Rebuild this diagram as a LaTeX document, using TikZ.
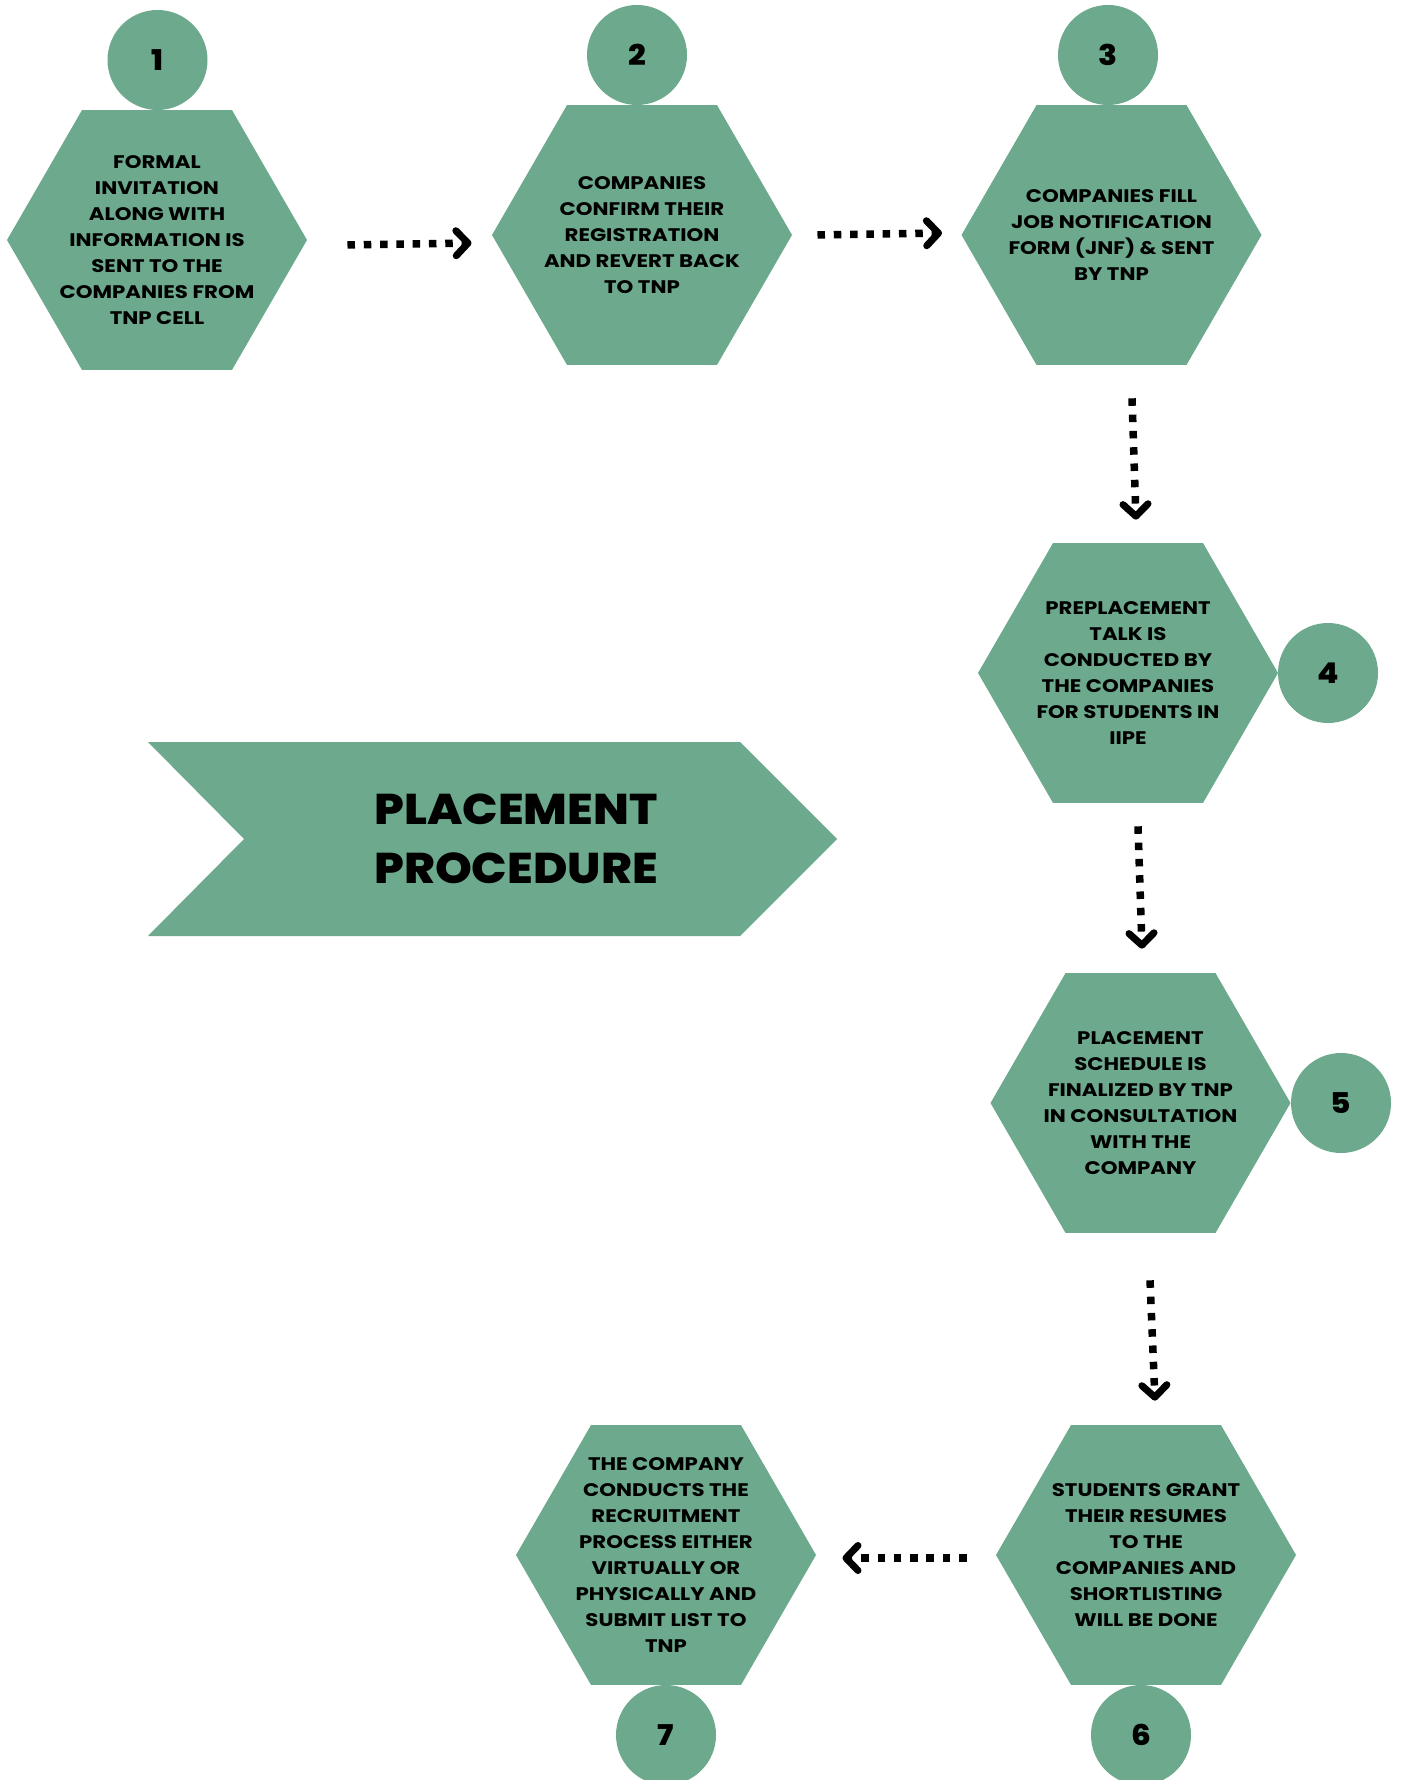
\documentclass[tikz,border=0pt]{standalone}
\usepackage{fontspec}
\setmainfont{Poppins}
\newfontfamily\hexfont{Poppins}[FakeStretch=1.17]
\newfontfamily\heavyfont{Poppins ExtraBold}[FakeStretch=1.09]
\usetikzlibrary{shapes.geometric,arrows.meta,calc}
\definecolor{hexgreen}{RGB}{108,169,141}
\begin{document}
\begin{tikzpicture}[x=0.5pt,y=-0.5pt,
  hexa/.style={regular polygon,regular polygon sides=6,minimum size=150pt,inner sep=0pt,fill=hexgreen,draw=none},
  numc/.style={circle,minimum size=50pt,inner sep=0pt,fill=hexgreen,font=\heavyfont\fontsize{14.3}{14.3}\selectfont,text=black},
  hextext/.style={align=center,inner sep=0pt,font=\hexfont\bfseries\fontsize{9.1}{13}\selectfont,text=black},
  titletext/.style={align=center,inner sep=0pt,font=\heavyfont\fontsize{21.5}{29.5}\selectfont,text=black},
  flow/.style={line width=3.75pt,dash pattern=on 3.75pt off 4.4pt,
    -{Straight Barb[length=6pt,width=12.5pt,line width=3.5pt,round]}}
]
\useasboundingbox (0,0) rectangle (1402,1780);
\fill[white] (0,0) rectangle (1402,1780);

% hexagons
\node[hexa] (h1) at (157,240) {};
\node[hexa] (h2) at (642,235) {};
\node[hexa] (h3) at (1111.5,235) {};
\node[hexa] (h4) at (1128,673) {};
\node[hexa] (h5) at (1140.5,1103) {};
\node[hexa] (h6) at (1146,1555) {};
\node[hexa] (h7) at (666,1555) {};

% texts
\node[hextext] (t1) at (h1) {FORMAL\\INVITATION\\ALONG WITH\\INFORMATION IS\\SENT TO THE\\COMPANIES FROM\\TNP CELL};
\node[hextext] (t2) at (h2) {COMPANIES\\CONFIRM THEIR\\REGISTRATION\\AND REVERT BACK\\TO TNP};
\node[hextext] (t3) at (h3) {COMPANIES FILL\\JOB NOTIFICATION\\FORM (JNF) \& SENT\\BY TNP};
\node[hextext] (t4) at (h4) {PREPLACEMENT\\TALK IS\\CONDUCTED BY\\THE COMPANIES\\FOR STUDENTS IN\\IIPE};
\node[hextext] (t5) at (h5) {PLACEMENT\\SCHEDULE IS\\FINALIZED BY TNP\\IN CONSULTATION\\WITH THE\\COMPANY};
\node[hextext] (t6) at (h6) {STUDENTS GRANT\\THEIR RESUMES\\TO THE\\COMPANIES AND\\SHORTLISTING\\WILL BE DONE};
\node[hextext] (t7) at (h7) {THE COMPANY\\CONDUCTS THE\\RECRUITMENT\\PROCESS EITHER\\VIRTUALLY OR\\PHYSICALLY AND\\SUBMIT LIST TO\\TNP};

% number circles
\node[numc] (c1) at (157.5,60) {1};
\node[numc] (c2) at (637,55) {2};
\node[numc] (c3) at (1108,55) {3};
\node[numc] (c4) at (1328,673) {4};
\node[numc] (c5) at (1341,1103) {5};
\node[numc] (c6) at (1141,1735) {6};
\node[numc] (c7) at (666,1735) {7};

% connectors
\draw[flow] ($(h1.east)+(40,5)$) -- ($(h2.west)+(-20,8)$);
\draw[flow] ($(h2.east)+(25,0)$) -- ($(h3.west)+(-19,-2)$);
\draw[flow] ($(h3.south)+(20.5,33)$) -- ($(h4.north)+(8,-23)$);
\draw[flow] ($(h4.south)+(10,23)$) -- ($(h5.north)+(1.5,-24)$);
\draw[flow] ($(h5.south)+(9.5,47)$) -- ($(h6.north)+(9,-24)$);
\draw[flow] ($(h6.west)+(-29,3)$) -- ($(h7.east)+(26,3)$);

% title banner
\fill[hexgreen] (148,742) -- (740,742) -- (837,839) -- (740,936) -- (148,936) -- (244,839) -- cycle;
\node[titletext] (title) at (516,839) {PLACEMENT\\PROCEDURE};
\end{tikzpicture}
\end{document}
